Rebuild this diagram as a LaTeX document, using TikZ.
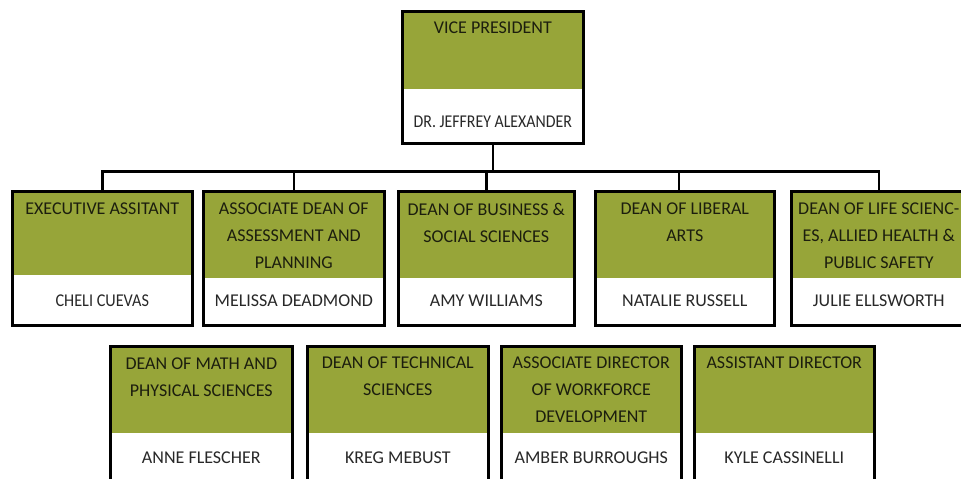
\documentclass[tikz,border=0pt]{standalone}
\usepackage{fontspec}
\setmainfont{Carlito}
\usetikzlibrary{positioning}
\definecolor{deptgreen}{RGB}{151,165,57}
\definecolor{titleink}{RGB}{28,30,14}
\definecolor{nameink}{RGB}{40,40,40}

\begin{document}
\begin{tikzpicture}[x=1pt, y=-1pt,
    office/.style={rectangle, draw=black, line width=2.6pt, fill=white, anchor=north west, inner sep=0pt,
        path picture={\fill[deptgreen] (path picture bounding box.north west) rectangle ([yshift=-#1]path picture bounding box.north east);}},
    roletext/.style={inner sep=0pt, align=center, text=titleink, font=\fontsize{18}{27}\selectfont},
    persontext/.style={inner sep=0pt, text=nameink, font=\fontsize{18}{22}\selectfont},
    link/.style={line width=2.4pt, color=black}
]
\useasboundingbox (0,0) rectangle (961,479);
\fill[white] (0,0) rectangle (961,479);
\clip (0,0) rectangle (961,479);

% top of the chart
\node[office=78pt, minimum width=181pt, minimum height=132pt] (vp) at (401,10) {};
\node[roletext, below=12pt of vp.north] (vptitle) {VICE PRESIDENT};
\node[persontext, above=17pt of vp.south] (vpname) {\scalebox{0.88}[1]{DR. JEFFREY ALEXANDER}};

% first row
\node[office=84pt, minimum width=180pt, minimum height=134pt] (assistant) at (11,190) {};
\node[office=87pt, minimum width=181pt, minimum height=134pt] (assessment) at (202,190) {};
\node[office=87pt, minimum width=176pt, minimum height=134pt] (business) at (397,190) {};
\node[office=87pt, minimum width=179pt, minimum height=134pt] (liberal) at (594,190) {};
\node[office=87pt, minimum width=175pt, minimum height=134pt] (life) at (790,190) {};

\node[roletext, below=13pt of assistant.north] (assistanttitle) {EXECUTIVE ASSITANT};
\node[roletext, below=13pt of assessment.north] (assessmenttitle) {ASSOCIATE DEAN OF\\ASSESSMENT AND\\PLANNING};
\node[roletext, below=13pt of business.north] (businesstitle) {DEAN OF BUSINESS \&\\SOCIAL SCIENCES};
\node[roletext, below=13pt of liberal.north] (liberaltitle) {DEAN OF LIBERAL\\ARTS};
\node[roletext, below=13pt of life.north] (lifetitle) {DEAN OF LIFE SCIENC-\\ES, ALLIED HEALTH \&\\PUBLIC SAFETY};

\node[persontext, above=20pt of assistant.south] (assistantname) {\scalebox{0.9}[1]{CHELI CUEVAS}};
\node[persontext, above=20pt of assessment.south] (assessmentname) {MELISSA DEADMOND};
\node[persontext, above=20pt of business.south] (businessname) {AMY WILLIAMS};
\node[persontext, above=20pt of liberal.south] (liberalname) {NATALIE RUSSELL};
\node[persontext, above=20pt of life.south] (lifename) {JULIE ELLSWORTH};

% second row
\node[office=87pt, minimum width=182pt, minimum height=136pt] (math) at (109,345) {};
\node[office=87pt, minimum width=181pt, minimum height=136pt] (technical) at (306,345) {};
\node[office=87pt, minimum width=180pt, minimum height=136pt] (workforce) at (500,345) {};
\node[office=87pt, minimum width=180pt, minimum height=136pt] (asstdir) at (693,345) {};

\node[roletext, below=13pt of math.north] (mathtitle) {DEAN OF MATH AND\\PHYSICAL SCIENCES};
\node[roletext, below=12pt of technical.north] (technicaltitle) {DEAN OF TECHNICAL\\SCIENCES};
\node[roletext, below=12pt of workforce.north] (workforcetitle) {ASSOCIATE DIRECTOR\\OF WORKFORCE\\DEVELOPMENT};
\node[roletext, below=12pt of asstdir.north] (asstdirtitle) {ASSISTANT DIRECTOR};

\node[persontext, above=20pt of math.south] (mathname) {ANNE FLESCHER};
\node[persontext, above=20pt of technical.south] (technicalname) {KREG MEBUST};
\node[persontext, above=20pt of workforce.south] (workforcename) {AMBER BURROUGHS};
\node[persontext, above=20pt of asstdir.south] (asstdirname) {KYLE CASSINELLI};

% reporting lines
\coordinate (split) at ([yshift=-27pt]vp.south);
\draw[link] (vp.south) -- (split);
\draw[link] (assistant.north) |- (split) -| (life.north);
\draw[link] (assessment.north) -- (assessment.north |- split);
\draw[link] (business.north) -- (business.north |- split);
\draw[link] ([xshift=-6pt]liberal.north) -- ([xshift=-6pt]liberal.north |- split);
\end{tikzpicture}
\end{document}
